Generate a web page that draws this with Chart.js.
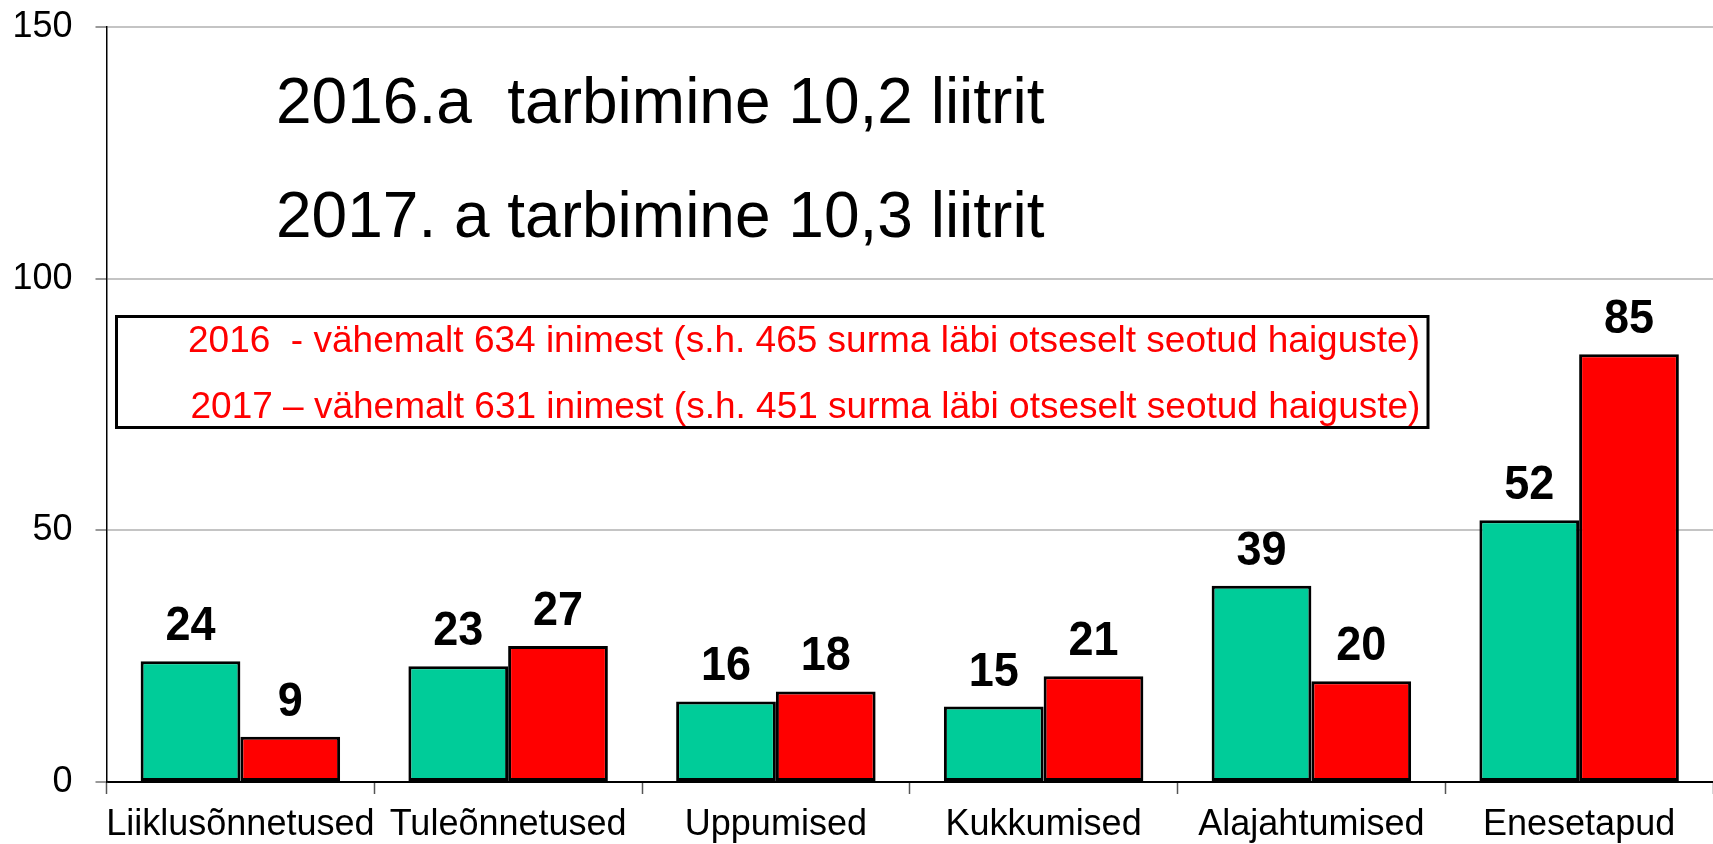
<!DOCTYPE html>
<html><head><meta charset="utf-8">
<script src="https://cdn.jsdelivr.net/npm/chart.js@4.4.0/dist/chart.umd.min.js"></script>
<style>html,body{margin:0;padding:0;background:#fff;} #wrap{width:1713px;height:844px;position:relative;}</style>
</head><body><div id="wrap"><canvas id="c"></canvas></div>
<script>
const categories = ["Liiklusõnnetused","Tuleõnnetused","Uppumised","Kukkumised","Alajahtumised","Enesetapud"];
const series2016 = [24,23,16,15,39,52];
const series2017 = [9,27,18,21,20,85];
const yTicks = [0,50,100,150];
const titleLines = ["2016.a  tarbimine 10,2 liitrit","2017. a tarbimine 10,3 liitrit"];
const boxLines = ["2016  - vähemalt 634 inimest (s.h. 465 surma läbi otseselt seotud haiguste)","2017 – vähemalt 631 inimest (s.h. 451 surma läbi otseselt seotud haiguste)"];

const FONT = '"Liberation Sans", Arial, sans-serif';

const labelPlugin = {
  id: 'labels',
  afterDatasetsDraw(chart) {
    const ctx = chart.ctx;
    chart.data.datasets.forEach((ds, i) => {
      const meta = chart.getDatasetMeta(i);
      meta.data.forEach((bar, j) => {
        ctx.save();
        ctx.font = 'bold 45px ' + FONT;
        ctx.fillStyle = '#000';
        ctx.textAlign = 'center';
        ctx.textBaseline = 'alphabetic';
        ctx.translate(bar.x, bar.y - 21);
        ctx.scale(1, 1.07);
        ctx.fillText(String(ds.data[j]), 0, 0);
        ctx.restore();
      });
    });
  },
  afterDraw(chart) {
    const ctx = chart.ctx;
    ctx.save();
    ctx.fillStyle = '#000';
    ctx.textAlign = 'left';
    ctx.textBaseline = 'alphabetic';
    ctx.font = '64px ' + FONT;
    ctx.fillText(titleLines[0], 276, 122.5);
    ctx.fillText(titleLines[1], 276, 237);
    // box
    ctx.lineWidth = 3;
    ctx.strokeStyle = '#000';
    ctx.strokeRect(116.5, 316.5, 1311.5, 111);
    ctx.fillStyle = '#ff0000';
    ctx.font = '37px ' + FONT;
    ctx.fillText(boxLines[0], 188, 351.5);
    ctx.fillText(boxLines[1], 190.5, 418);
    ctx.restore();
  }
};

new Chart(document.getElementById('c'), {
  type: 'bar',
  data: {
    labels: categories,
    datasets: [
      { label: '2016', data: series2016, backgroundColor: '#00cc99', borderColor: '#000', borderWidth: 3, borderSkipped: false },
      { label: '2017', data: series2017, backgroundColor: '#ff0000', borderColor: '#000', borderWidth: 3, borderSkipped: false }
    ]
  },
  options: {
    responsive: true,
    maintainAspectRatio: false,
    animation: false,
    devicePixelRatio: 1,
    layout: { padding: { top: 27, right: 0, left: 0, bottom: 0 } },
    plugins: { legend: { display: false }, tooltip: { enabled: false }, title: { display: false } },
    datasets: { bar: { categoryPercentage: 0.745, barPercentage: 1.0 } },
    scales: {
      x: {
        offset: true,
        grid: { display: true, offset: true, drawOnChartArea: false, drawTicks: true, tickLength: 12, tickColor: '#555', tickWidth: 1.5 },
        border: { display: true, color: '#000', width: 1.5 },
        ticks: { color: '#000', font: { family: FONT, size: 36 }, padding: 9, maxRotation: 0, autoSkip: false },
        afterFit: (s) => { s.height = 62; s.paddingLeft = 0; s.paddingRight = 0; }
      },
      y: {
        min: 0, max: 150,
        afterBuildTicks: (s) => { s.ticks = yTicks.map(v => ({ value: v })); },
        grid: {
          color: (c) => (c.tick && c.tick.value === 0) ? '#000' : '#c4c4c4',
          lineWidth: 2, drawTicks: true, tickLength: 11, tickColor: '#777', tickWidth: 1.5
        },
        border: { display: true, color: '#000', width: 1.5 },
        ticks: { color: '#000', font: { family: FONT, size: 36 }, padding: 23 },
        afterFit: (s) => { s.width = 106.5; s.paddingTop = 0; s.paddingBottom = 0; }
      }
    }
  },
  plugins: [labelPlugin]
});
</script>
</body></html>
